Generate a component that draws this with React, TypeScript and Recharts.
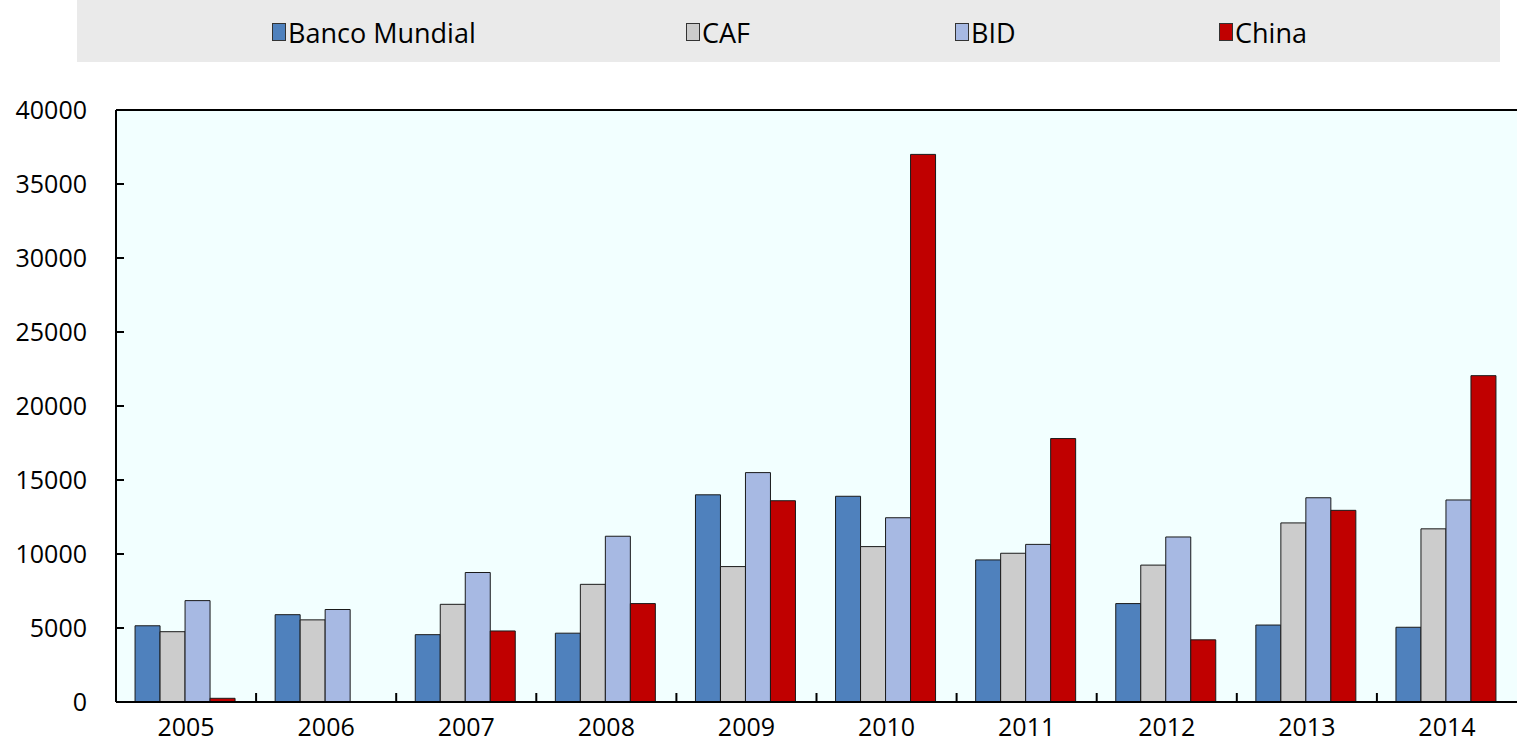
import { BarChart, Bar, XAxis, YAxis, CartesianGrid, ReferenceLine } from 'recharts';

const years = ['2005', '2006', '2007', '2008', '2009', '2010', '2011', '2012', '2013', '2014'];
const bancoMundial = [5150, 5900, 4550, 4650, 14000, 13900, 9600, 6650, 5200, 5050];
const caf = [4750, 5550, 6600, 7950, 9150, 10500, 10050, 9250, 12100, 11700];
const bid = [6850, 6250, 8750, 11200, 15500, 12450, 10650, 11150, 13800, 13650];
const china = [250, 0, 4800, 6650, 13600, 37000, 17800, 4200, 12950, 22050];
const yTicks = [0, 5000, 10000, 15000, 20000, 25000, 30000, 35000, 40000];

const seriesNames = ['Banco Mundial', 'CAF', 'BID', 'China'];
const seriesKeys = ['bm', 'caf', 'bid', 'china'];
const COLORS = ['#4F81BD', '#CCCCCC', '#A7B9E3', '#C00000'];

const data = years.map((y, i) => ({
  year: y,
  bm: bancoMundial[i],
  caf: caf[i],
  bid: bid[i],
  china: china[i],
}));

const W = 1518;
const H = 744;
const PLOT_LEFT = 116;
const PLOT_RIGHT = 1517;
const BAND = (PLOT_RIGHT - PLOT_LEFT) / years.length;
const FONT = '"Open Sans", sans-serif';
const LEGEND_X = [272, 686, 955, 1219];

function XTick(props: any) {
  const { x, y, payload, index } = props;
  return (
    <g>
      {index > 0 && <line x1={x - BAND / 2} x2={x - BAND / 2} y1={y} y2={y - 9} stroke="#000" strokeWidth={2} />}
      <text x={x} y={y + 34} textAnchor="middle" fontSize={25} fontFamily={FONT} fill="#000">
        {payload.value}
      </text>
    </g>
  );
}

function YTick(props: any) {
  const { x, y, payload } = props;
  return (
    <g>
      <line x1={x} x2={x + 8} y1={y} y2={y} stroke="#000" strokeWidth={2} />
      <text x={x - 29} y={y + 9} textAnchor="end" fontSize={25} fontFamily={FONT} fill="#000">
        {payload.value}
      </text>
    </g>
  );
}

export default function App() {
  return (
    <div style={{ position: 'absolute', left: 0, top: 0, width: W, height: H, background: '#fff', fontFamily: FONT }}>
      <div style={{ position: 'absolute', left: 77, top: 0, width: 1423, height: 62, background: '#EAEAEA' }}>
        {seriesNames.map((name, i) => (
          <div
            key={name}
            style={{ position: 'absolute', left: LEGEND_X[i] - 77, top: 0, height: 64, display: 'flex', alignItems: 'center', fontSize: 27, color: '#000' }}
          >
            <span style={{ display: 'inline-block', width: 12, height: 16, background: COLORS[i], border: '1px solid #333', marginRight: 2 }} />
            {name}
          </div>
        ))}
      </div>
      <div style={{ position: 'absolute', left: 0, top: 0 }}>
        <BarChart
          width={W}
          height={H}
          data={data}
          margin={{ top: 110, left: 0, right: W - PLOT_RIGHT, bottom: 0 }}
          barCategoryGap="13.6%"
          barGap={0}
        >
          <rect x={PLOT_LEFT} y={110} width={PLOT_RIGHT - PLOT_LEFT} height={592} fill="#F2FFFF" />
          <CartesianGrid
            stroke="#FFFFFF"
            strokeWidth={2}
            fill="#F2FFFF"
            verticalCoordinatesGenerator={({ offset }: any) =>
              years.map((_, i) => offset.left + (offset.width / years.length) * i)
            }
          />
          <XAxis
            dataKey="year"
            height={42}
            tickLine={false}
            tickSize={0}
            tickMargin={0}
            axisLine={{ stroke: '#000', strokeWidth: 2 }}
            tick={<XTick />}
            interval={0}
          />
          <YAxis
            width={PLOT_LEFT}
            domain={[0, 40000]}
            ticks={yTicks}
            tickLine={false}
            tickSize={0}
            tickMargin={0}
            axisLine={{ stroke: '#000', strokeWidth: 2 }}
            tick={<YTick />}
            interval={0}
          />
          <ReferenceLine y={40000} stroke="#000" strokeWidth={2} />
          {seriesKeys.map((k, i) => (
            <Bar key={k} dataKey={k} fill={COLORS[i]} stroke="#1a1a1a" strokeWidth={1} isAnimationActive={false} />
          ))}
        </BarChart>
      </div>
    </div>
  );
}
